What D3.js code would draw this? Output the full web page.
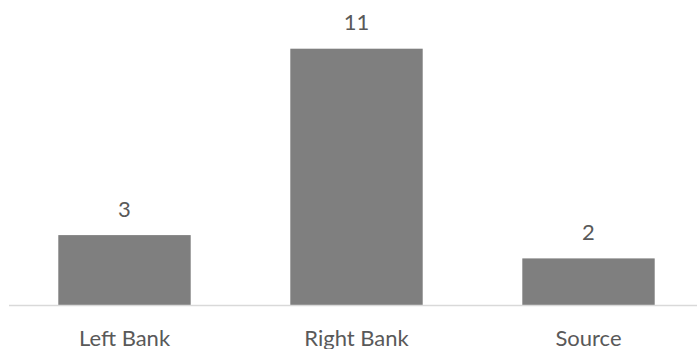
<!DOCTYPE html>
<html>
<head>
<meta charset="utf-8">
<script src="https://cdn.jsdelivr.net/npm/d3@7"></script>
<style>
  html, body { margin: 0; padding: 0; background: #ffffff; }
  svg { display: block; }
  text { font-family: Lato, "Open Sans", sans-serif; fill: #595959; }
</style>
</head>
<body>
<svg id="chart" width="697" height="349"></svg>
<script>
// Counts per location
const categories = ["Left Bank", "Right Bank", "Source"];
const counts = [3, 11, 2];

const width = 697, height = 349;
const baseline = 305;

const svg = d3.select("#chart");

const x = d3.scaleBand()
  .domain(categories)
  .range([8.5, 704.5])
  .paddingInner(0.4293)
  .paddingOuter(0.4293 / 2);

const y = d3.scaleLinear()
  .domain([0, 12])
  .range([baseline, baseline - 12 * 23.3]);

// Bars
svg.append("g")
  .selectAll("rect")
  .data(categories)
  .join("rect")
  .attr("x", d => x(d))
  .attr("width", x.bandwidth())
  .attr("y", (d, i) => y(counts[i]))
  .attr("height", (d, i) => y(0) - y(counts[i]))
  .attr("fill", "#7f7f7f");

// Category axis
const axis = svg.append("g")
  .attr("transform", `translate(0,${baseline})`)
  .call(d3.axisBottom(x).tickSize(0).tickPadding(25));
axis.select(".domain")
  .attr("stroke", "#d9d9d9")
  .attr("stroke-width", 1.5);
axis.selectAll("text")
  .attr("font-size", 22)
  .attr("fill", "#595959")
  .style("font-family", "Lato, 'Open Sans', sans-serif");

// Value labels above bars
svg.append("g")
  .selectAll("text")
  .data(categories)
  .join("text")
  .attr("x", d => x(d) + x.bandwidth() / 2)
  .attr("y", (d, i) => y(counts[i]) - 18.5)
  .attr("text-anchor", "middle")
  .attr("font-size", 22)
  .text((d, i) => counts[i]);
</script>
</body>
</html>
